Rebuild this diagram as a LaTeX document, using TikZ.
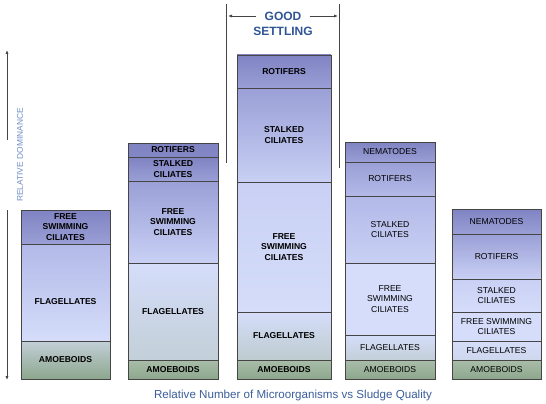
\documentclass[tikz,border=0pt]{standalone}
\usepackage{fontspec}
\setmainfont{Liberation Sans}
\usetikzlibrary{arrows.meta}
\definecolor{edge}{HTML}{454545}
\definecolor{cza}{HTML}{8083C2}
\definecolor{czb}{HTML}{9A9FD6}
\definecolor{czc}{HTML}{B3B9E8}
\definecolor{czd}{HTML}{C9D0F4}
\definecolor{cze}{HTML}{D5DDFA}
\definecolor{cgl}{HTML}{C3CFD8}
\definecolor{cgm}{HTML}{A9BDA9}
\definecolor{cgd}{HTML}{8DA78D}
\definecolor{ttl}{HTML}{3B5E9C}
\definecolor{gs}{HTML}{2F5597}
\definecolor{rdc}{HTML}{6F8FC8}
\newcommand\mysec[9]{%
  \node[#1, minimum width=#4pt, minimum height={(#6-#5)*1pt}, top color=#7, bottom color=#8]
    (#2) at ({#3+#4/2},{(#5+#6)/2}) {#9};}
\begin{document}
\begin{tikzpicture}[x=1pt,y=-1pt,
  secR/.style={draw=edge, line width=0.8pt, inner sep=0pt, align=center, text=black,
    font=\fontsize{8.6}{10.2}\selectfont},
  secB/.style={secR, font=\fontsize{8.6}{10.2}\selectfont\bfseries},
  lblB/.style={inner sep=0pt, align=center, text=black, font=\fontsize{8.6}{10.2}\selectfont\bfseries},
  guide/.style={draw=edge, line width=0.8pt},
  arr/.style={guide, -{Latex[length=4pt,width=3.2pt]}}]
\fill[white] (0,0) rectangle (546,404);
\useasboundingbox (0,0) rectangle (546,404);
% column 1
\mysec{secB}{aa}{21}{89}{210}{244}{cza}{czb}{FREE\\SWIMMING\\CILIATES}
\mysec{secB}{ab}{21}{89}{244}{341}{czc}{cze}{}
\node[lblB] (abt) at (65.5,302) {FLAGELLATES};
\mysec{secB}{ac}{21}{89}{341}{379}{cgl}{cgd}{AMOEBOIDS}
% column 2
\mysec{secB}{ba}{128}{90}{143}{157}{cza}{cza!85!czb}{ROTIFERS}
\mysec{secB}{bb}{128}{90}{157}{181}{cza}{czb}{STALKED\\CILIATES}
\mysec{secB}{bc}{128}{90}{181}{263}{czb}{czd}{FREE\\SWIMMING\\CILIATES}
\mysec{secB}{bd}{128}{90}{263}{360}{cze}{cgl}{FLAGELLATES}
\mysec{secB}{be}{128}{90}{360}{379}{cgm}{cgd}{AMOEBOIDS}
% column 3
\mysec{secB}{ca}{237}{94}{55}{88}{cza}{czb}{ROTIFERS}
\mysec{secB}{cb}{237}{94}{88}{182}{czb}{czd}{STALKED\\CILIATES}
\mysec{secB}{cc}{237}{94}{182}{312}{czd}{cze}{FREE\\SWIMMING\\CILIATES}
\mysec{secB}{cd}{237}{94}{312}{360}{cze}{cgl!80!cgm}{FLAGELLATES}
\mysec{secB}{ce}{237}{94}{360}{379}{cgm}{cgd}{AMOEBOIDS}
% column 4
\mysec{secR}{da}{345}{90}{142}{162}{cza}{czb}{NEMATODES}
\mysec{secR}{db}{345}{90}{162}{196}{czb}{czc}{ROTIFERS}
\mysec{secR}{dc}{345}{90}{196}{263}{czc}{czd}{STALKED\\CILIATES}
\mysec{secR}{dd}{345}{90}{263}{335}{cze}{cze}{FREE\\SWIMMING\\CILIATES}
\mysec{secR}{de}{345}{90}{335}{360}{cze}{cgl}{FLAGELLATES}
\mysec{secR}{df}{345}{90}{360}{379}{cgm}{cgd}{AMOEBOIDS}
% column 5
\mysec{secR}{ea}{452}{89}{209}{234}{cza}{czb}{NEMATODES}
\mysec{secR}{eb}{452}{89}{234}{279}{czb}{czd}{ROTIFERS}
\mysec{secR}{ec}{452}{89}{279}{312}{czd}{cze}{STALKED\\CILIATES}
\mysec{secR}{ed}{452}{89}{312}{341}{cze}{cze}{FREE SWIMMING\\CILIATES}
\mysec{secR}{ee}{452}{89}{341}{360}{cze}{cze!60!cgl}{FLAGELLATES}
\mysec{secR}{ef}{452}{89}{360}{379}{cgm}{cgd}{AMOEBOIDS}
% relative dominance axis
\coordinate (ya) at (7,50);
\coordinate (yb) at (7,140);
\coordinate (yc) at (7,210);
\coordinate (yd) at (7,380);
\draw[arr] (yb) -- (ya);
\draw[arr] (yc) -- (yd);
\node[rotate=90, text=rdc, font=\fontsize{8.4}{10}\selectfont, inner sep=0pt] (rd) at (20,155) {RELATIVE DOMINANCE};
% good settling
\coordinate (vla) at (226,4);
\coordinate (vlb) at (226,163);
\coordinate (vra) at (339,4);
\coordinate (vrb) at (339,168);
\draw[guide] (vla) -- (vlb);
\draw[guide] (vra) -- (vrb);
\node[text=gs, font=\fontsize{12}{14}\selectfont\bfseries, inner sep=0pt] (good) at (283,16) {GOOD};
\node[text=gs, font=\fontsize{12}{14}\selectfont\bfseries, inner sep=0pt] (settle) at (283,31) {SETTLING};
\coordinate (gla) at (228,16);
\coordinate (gra) at (338,16);
\draw[arr] ([xshift=-8pt]good.west) -- (gla);
\draw[arr] ([xshift=8pt]good.east) -- (gra);
% title
\node[text=ttl, font=\fontsize{11.6}{14}\selectfont, inner sep=0pt] (title) at (293,395) {Relative Number of Microorganisms vs Sludge Quality};
\end{tikzpicture}
\end{document}
